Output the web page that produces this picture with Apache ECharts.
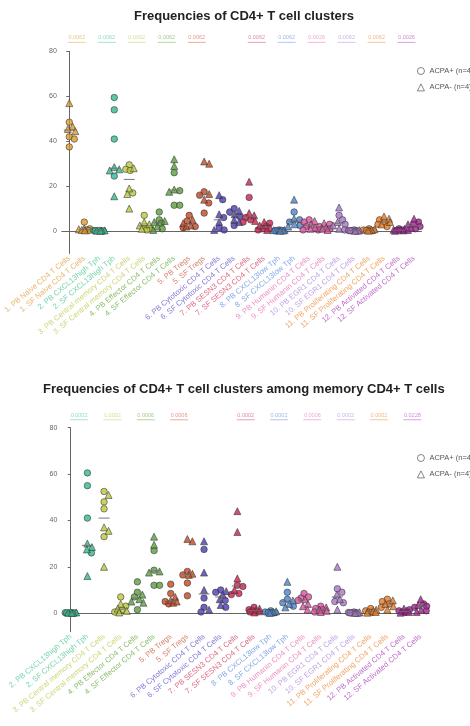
<!DOCTYPE html>
<html><head><meta charset="utf-8">
<script src="https://cdn.jsdelivr.net/npm/echarts@6/dist/echarts.min.js"></script>
<style>html,body{margin:0;padding:0;background:#fff}#c{width:470px;height:726px}</style>
</head><body><div id="c"></div>
<script>
// ---------- DATA ----------
const categoriesTop = [
  "1. PB Naive CD4 T Cells","1. SF Naive CD4 T Cells",
  "2. PB CXCL13high Tph","2. SF CXCL13high Tph",
  "3. PB Central memory CD4 T Cells","3. SF Central memory CD4 T Cells",
  "4. PB Effector CD4 T Cells","4. SF Effector CD4 T Cells",
  "5. PB Tregs","5. SF Tregs",
  "6. PB Cytotoxic CD4 T Cells","6. SF Cytotoxic CD4 T Cells",
  "7. PB SESN3 CD4 T Cells","7. SF SESN3 CD4 T Cells",
  "8. PB CXCL13low Tph","8. SF CXCL13low Tph",
  "9. PB Humanin CD4 T Cells","9. SF Humanin CD4 T Cells",
  "10. PB EGR1 CD4 T Cells","10. SF EGR1 CD4 T Cells",
  "11. PB Proliferating CD4 T Cells","11. SF Proliferating CD4 T Cells",
  "12. PB Activated CD4 T Cells","12. SF Activated CD4 T Cells"
];
// ACPA+ (circles), ACPA- (triangles), per category
const acpaPosTop = [
  [48.5,42,41,37.5],[4,1,0.5,0.2],[0.3,0.2,0.1,0.1],[59.5,54,41,24.5],
  [29.5,27.5,27,17],[7,2,1,0.5],[8.5,5,3.5,1],[26,18,11.5,11.5],
  [7,4.5,2,1.5],[17.5,16,12.5,8],[14,6,1.5,0.5],[10,8.5,6.5,2.5],
  [15,6,5,4],[3.5,2,1,0.5],[0.5,0.3,0.2,0.1],[8.5,5,4,2.5],
  [5,4,2,0.5],[3,2,1,0.5],[7,5,3,0.5],[0.5,0.3,0.2,0.1],
  [1,0.5,0.3,0.2],[5,4,3,2],[1,0.5,0.3,0.2],[4,3,2,1]
];
const acpaNegTop = [
  [57,46.5,45.5,44.5],[1.2,0.8,0.5,0.3],[0.3,0.2,0.2,0.1],[28.5,27.5,27,15.5],
  [28,19,16.5,10],[4,3,2.5,1],[4.5,4,2,0.5],[32,29,18.5,17.5],
  [5,3.5,2.5,2],[31,30,16.5,14],[16,7.5,4,0.5],[9,7.5,5,4],
  [22,8,7,4.5],[4,2.5,1.5,0.5],[0.5,0.4,0.2,0.1],[14,5.5,3,2],
  [4.5,3,1.5,1],[3.5,1.5,1,0.5],[10.5,4,2.5,1],[0.4,0.3,0.2,0.1],
  [0.8,0.5,0.3,0.2],[6.5,5.5,4,3],[1,0.6,0.3,0.1],[5.5,3,1.5,0.5]
];
// p-values per PB/SF pair ('' = none shown)
const pValuesTop = ["0.0062","0.0062","0.0062","0.0062","0.0062","","0.0062","0.0062","0.0026","0.0062","0.0062","0.0026"];

const categoriesBottom = categoriesTop.slice(2);
const acpaPosBottom = [
  [0.3,0.2,0.1,0.1],[60.5,55,41,26],[52.5,48,45,33],[7,3,1.5,0.5],
  [13.5,9,7,1.5],[27,18.5,12,12],[12.5,8.5,5,4],[18,16.5,13,7.5],
  [27.5,6.5,2.5,0.5],[10,9,5.5,2.5],[12,11.5,8.5,8],[2.5,1.5,1,0.5],
  [1,0.5,0.3,0.2],[9,6,4.5,3],[8.5,7,6.5,5.5],[3,2,1.5,0.5],
  [10.5,9,5,4.5],[0.5,0.3,0.2,0.1],[2,1,0.5,0.3],[6,5,4,2.5],
  [1.5,1,0.5,0.3],[4,3,2.5,1]
];
const acpaNegBottom = [
  [0.3,0.2,0.2,0.1],[30,28.5,27.5,16],[51,37,35.5,20],[4,2,1,0.3],
  [8,6,5,4.5],[33,29.5,18,17.5],[7,5.5,5,4.5],[32,31,17,16.5],
  [31,17.5,10,1.5],[9.5,8,6,3.5],[44,35,15,10],[2,1.2,0.8,0.3],
  [0.8,0.5,0.3,0.1],[13.5,5.5,4,2.5],[6,4,3,1.5],[2.5,1.5,1,0.5],
  [20,8,6,1.5],[0.4,0.3,0.2,0.1],[1.5,1,0.5,0.2],[5.5,4,3,1.5],
  [2,1,0.5,0.2],[6,3.5,1.5,0.5]
];
const pValuesBottom = ["0.0002","0.0002","0.0006","0.0006","","0.0002","0.0002","0.0006","0.0002","0.0002","0.0228"];

const yTicks = [0,20,40,60,80];
const titles = ["Frequencies of CD4+ T cell clusters","Frequencies of CD4+ T cell clusters among memory CD4+ T cells"];
const legendNames = ["ACPA+ (n=4)","ACPA- (n=4)"];

// ---------- STYLE ----------
const dotColors = ["#d99a2b","#30b88e","#bcc63c","#5a9e3c","#c4461f","#4b3cb0","#c8204e","#4a84cc","#d9509e","#a776c8","#e87a22","#a0208e"];
const labelColors = ["#e8b46a","#74d4ab","#cbd77a","#8cbc6e","#d8806a","#8578d6","#dc6a86","#84a8e4","#eb90c6","#c2a4e2","#f2a464","#bf6ec8"];
const FONT = "Liberation Sans, Arial, sans-serif";

const grids = [
  {left:61.8, top:51.5, width:359.7, height:202, min:-10, max:80, uY:84.1, legTop:67},
  {left:62.4, top:427.7, width:366.6, height:204, min:-8, max:80, uY:83.4, legTop:454}
];
const charts = [
  {cats:categoriesTop, pos:acpaPosTop, neg:acpaNegTop, p:pValuesTop},
  {cats:categoriesBottom, pos:acpaPosBottom, neg:acpaNegBottom, p:pValuesBottom}
];

function groupOf(label){ return parseInt(label,10) - 1; }
function median(a){ const s=[...a].sort((x,y)=>x-y); const n=s.length; return n%2? s[(n-1)/2] : (s[n/2-1]+s[n/2])/2; }

// beeswarm layout: horizontal pixel offsets for points of one column
function swarm(vals, pxPerUnit){
  const d = 5.4, maxOff = 6;
  const order = vals.map((_,i)=>i).sort((a,b)=>vals[b]-vals[a]);
  const placed = [], offs = new Array(vals.length);
  const cands = [0];
  for (let s=0.5; s<=maxOff; s+=0.5){ cands.push(s, -s); }
  order.forEach(i=>{
    const y = vals[i]*pxPerUnit;
    let best = 0, bestScore = -1;
    for (const c of cands){
      let m = Infinity;
      for (const p of placed){ m = Math.min(m, Math.hypot(p.x-c, p.y-y)); }
      if (m >= d){ best = c; bestScore = Infinity; break; }
      if (m > bestScore){ bestScore = m; best = c; }
    }
    placed.push({x:best, y}); offs[i] = best;
  });
  return offs;
}

const option = {
  animation:false,
  backgroundColor:'#fff',
  title: titles.map((t,i)=>({
    text:t, left: i===0 ? 134 : 43, top: i===0 ? 9.5 : 383, padding:0,
    textStyle:{fontSize:13, fontWeight:'bold', color:'#222', fontFamily:FONT}
  })),
  legend: grids.map(g=>({
    orient:'vertical', left:417, top:g.legTop, padding:0, itemGap:8.4,
    itemWidth:7, itemHeight:7, selectedMode:false,
    textStyle:{fontSize:7.5, color:'#555', fontFamily:FONT},
    data:[
      {name:legendNames[0], icon:'circle', itemStyle:{color:'#fff', borderColor:'#555', borderWidth:0.9}},
      {name:legendNames[1], icon:'triangle', itemStyle:{color:'#fff', borderColor:'#555', borderWidth:0.9}}
    ]
  })),
  grid: grids.map(g=>({left:g.left, top:g.top, width:g.width, height:g.height})),
  xAxis: [], yAxis: [], series: []
};

charts.forEach((c, gi)=>{
  const g = grids[gi];
  const pxPerUnit = g.height/(g.max-g.min);
  option.xAxis.push({
    gridIndex:gi, type:'category', data:c.cats, boundaryGap:true,
    axisLine:{lineStyle:{color:'#666', width:1}},
    axisTick:{alignWithLabel:true, length:3, lineStyle:{color:'#666'}},
    axisLabel:{interval:0, rotate:40, fontSize:7.6, margin:4, fontFamily:FONT,
      color:(v,i)=>labelColors[groupOf(c.cats[i])]}
  });
  option.xAxis.push({gridIndex:gi, type:'value', min:-0.5, max:c.cats.length-0.5, show:false});
  option.yAxis.push({
    gridIndex:gi, type:'value', min:g.min, max:g.max,
    axisLine:{show:true, lineStyle:{color:'#666', width:1}},
    splitLine:{show:false},
    axisTick:{show:true, length:3, lineStyle:{color:'#666'}, customValues:yTicks},
    axisLabel:{fontSize:7, color:'#666', margin:5, fontFamily:FONT, customValues:yTicks}
  });
  const xCat = gi*2, xVal = gi*2+1;
  const posData = [], negData = [], medData = [];
  c.cats.forEach((lab, k)=>{
    const col = dotColors[groupOf(lab)];
    const vals = c.pos[k].concat(c.neg[k]);
    const offs = swarm(vals, pxPerUnit);
    c.pos[k].forEach((v,j)=>posData.push({value:[k, v], symbolOffset:[offs[j],0], itemStyle:{color:col}}));
    c.neg[k].forEach((v,j)=>negData.push({value:[k, v], symbolOffset:[offs[4+j],0], itemStyle:{color:col}}));
    medData.push([k, median(vals)]);
  });
  const common = {type:'scatter', xAxisIndex:xCat, yAxisIndex:gi, itemStyle:{borderColor:'#333', borderWidth:0.7}};
  option.series.push(Object.assign({name:legendNames[0], symbol:'circle', symbolSize:6.5, data:posData, z:3}, common));
  option.series.push(Object.assign({name:legendNames[1], symbol:'triangle', symbolSize:7, data:negData, z:3}, common));
  option.series.push({type:'scatter', xAxisIndex:xCat, yAxisIndex:gi, symbol:'rect', symbolSize:[11,1.1],
    itemStyle:{color:'#6f6f6f', opacity:0.85}, data:medData, z:4, silent:true});
  // p-value annotations (underlined text) between PB/SF pairs
  const pData = [];
  c.p.forEach((t, j)=>{
    if (!t) return;
    const grp = groupOf(c.cats[2*j]);
    pData.push({value:[2*j+0.5, g.uY], itemStyle:{color:labelColors[grp]},
      label:{formatter:t, color:labelColors[grp]}});
  });
  option.series.push({type:'scatter', xAxisIndex:xVal, yAxisIndex:gi, symbol:'rect', symbolSize:[18,0.8],
    clip:false, silent:true, z:5,
    label:{show:true, position:'top', distance:1, fontSize:5.5, fontFamily:FONT},
    data:pData});
});

const chart = echarts.init(document.getElementById('c'), null, {renderer:'canvas'});
chart.setOption(option);
</script></body></html>
